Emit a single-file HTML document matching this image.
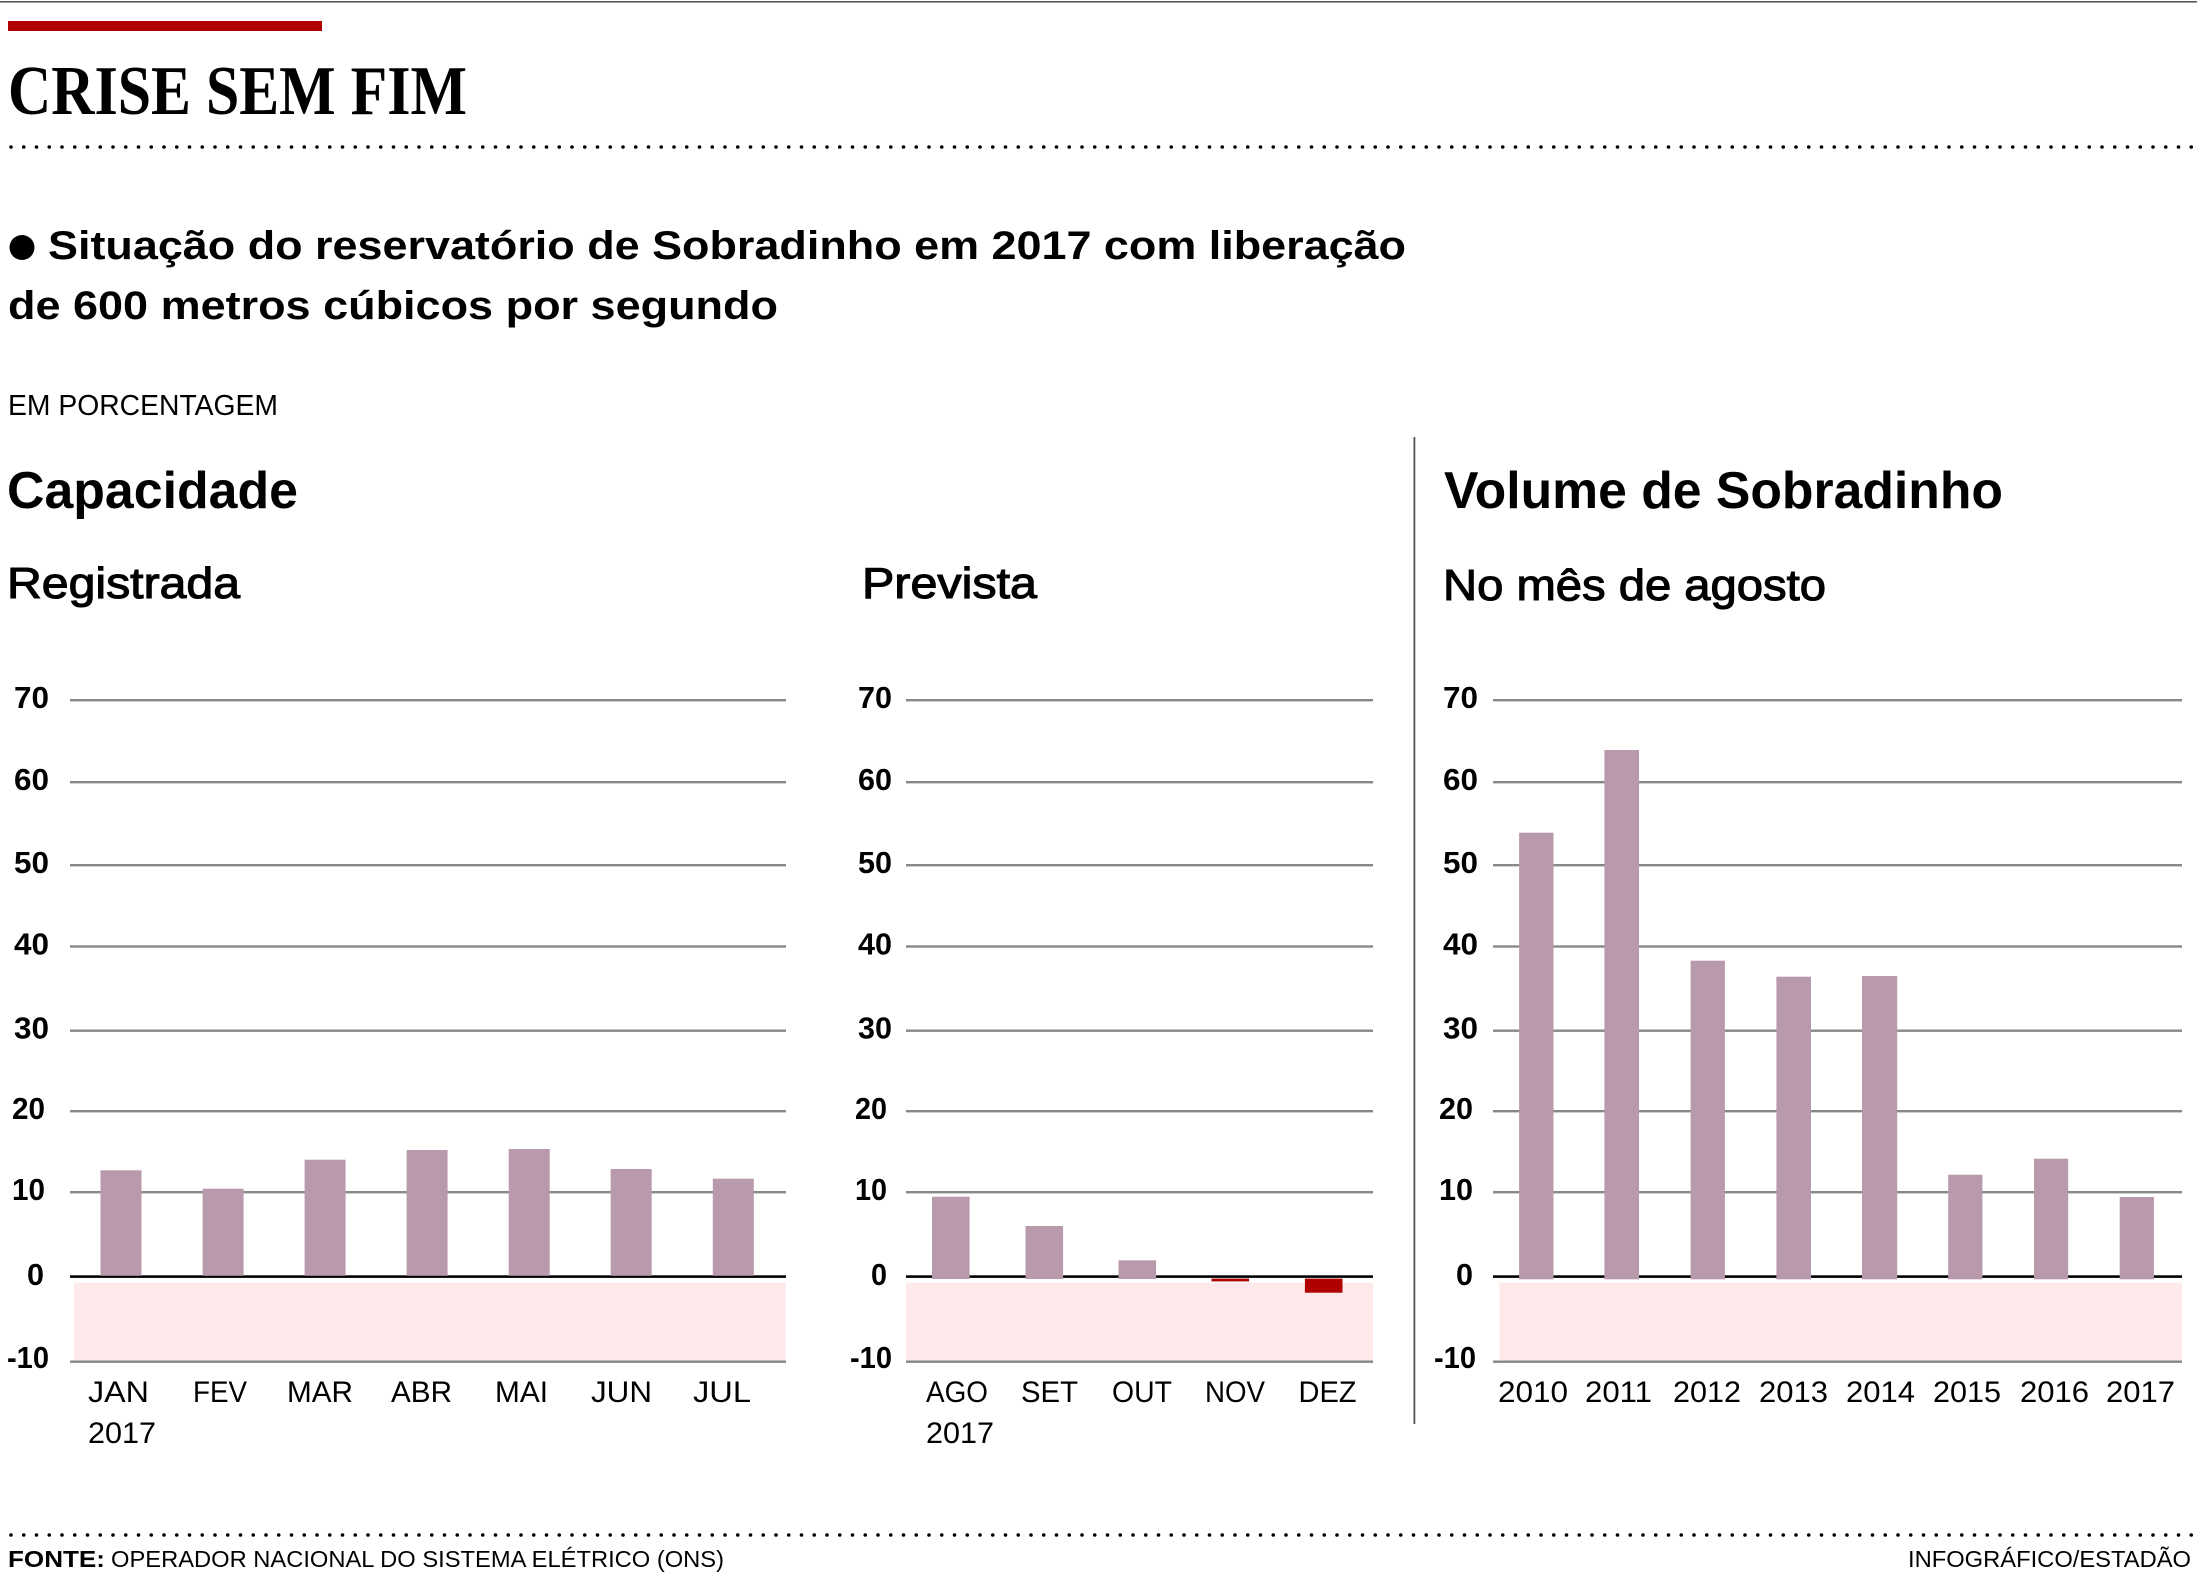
<!DOCTYPE html>
<html>
<head>
<meta charset="utf-8">
<style>
html,body{margin:0;padding:0;background:#fff;}
svg{display:block;}
text{font-family:"Liberation Sans",sans-serif;fill:#000;}
.serif{font-family:"Liberation Serif",serif;font-weight:bold;}
.b{font-weight:bold;}
.yl{font-weight:bold;font-size:31px;}
.xl{font-size:30px;}
</style>
</head>
<body>
<svg width="2197" height="1573" viewBox="0 0 2197 1573" xmlns="http://www.w3.org/2000/svg">
<rect x="0" y="0" width="2197" height="1573" fill="#fff"/>
<!-- top rule -->
<rect x="0" y="1" width="2197" height="1.6" fill="#555"/>
<!-- red bar -->
<rect x="8" y="21" width="314" height="10" fill="#b00000"/>
<!-- title -->
<text class="serif" x="8" y="114" font-size="70" textLength="459" lengthAdjust="spacingAndGlyphs">CRISE SEM FIM</text>
<!-- dotted line -->
<line x1="11" y1="147" x2="2193" y2="147" stroke="#000" stroke-width="3.6" stroke-linecap="round" stroke-dasharray="0 12.75"/>
<!-- subtitle -->
<circle cx="22" cy="247.5" r="12.5" fill="#000"/>
<text class="b" x="48" y="259" font-size="40" textLength="1358" lengthAdjust="spacingAndGlyphs">Situação do reservatório de Sobradinho em 2017 com liberação</text>
<text class="b" x="8" y="319" font-size="40" textLength="770" lengthAdjust="spacingAndGlyphs">de 600 metros cúbicos por segundo</text>
<text x="8" y="415" font-size="29" textLength="270" lengthAdjust="spacingAndGlyphs">EM PORCENTAGEM</text>

<!-- headings -->
<text class="b" x="7" y="508" font-size="52" textLength="291" lengthAdjust="spacingAndGlyphs">Capacidade</text>
<text x="7" y="598" font-size="44" stroke="#000" stroke-width="1.1" textLength="233" lengthAdjust="spacingAndGlyphs">Registrada</text>
<text x="862" y="598" font-size="44" stroke="#000" stroke-width="1.1" textLength="175" lengthAdjust="spacingAndGlyphs">Prevista</text>
<text class="b" x="1444" y="508" font-size="52" textLength="559" lengthAdjust="spacingAndGlyphs">Volume de Sobradinho</text>
<text x="1443" y="600" font-size="44" stroke="#000" stroke-width="1.1" textLength="383" lengthAdjust="spacingAndGlyphs">No mês de agosto</text>

<!-- separator -->
<rect x="1413.5" y="437" width="1.8" height="987" fill="#555"/>

<!-- pink negative regions -->
<rect x="74" y="1282.7" width="711.7" height="78" fill="#fde9ea"/>
<rect x="906" y="1282.7" width="467" height="78" fill="#fde9ea"/>
<rect x="1499.3" y="1282.7" width="682.7" height="78" fill="#fde9ea"/>

<!-- gridlines -->
<g fill="#888">
  <rect x="70" y="699" width="716" height="2.4"/>
  <rect x="70" y="781" width="716" height="2.4"/>
  <rect x="70" y="864" width="716" height="2.4"/>
  <rect x="70" y="945.3" width="716" height="2.4"/>
  <rect x="70" y="1029.5" width="716" height="2.4"/>
  <rect x="70" y="1110" width="716" height="2.4"/>
  <rect x="70" y="1191" width="716" height="2.4"/>
  <rect x="70" y="1360.5" width="716" height="2.4"/>

  <rect x="906" y="699" width="467" height="2.4"/>
  <rect x="906" y="781" width="467" height="2.4"/>
  <rect x="906" y="864" width="467" height="2.4"/>
  <rect x="906" y="945.3" width="467" height="2.4"/>
  <rect x="906" y="1029.5" width="467" height="2.4"/>
  <rect x="906" y="1110" width="467" height="2.4"/>
  <rect x="906" y="1191" width="467" height="2.4"/>
  <rect x="906" y="1360.5" width="467" height="2.4"/>

  <rect x="1493" y="699" width="689" height="2.4"/>
  <rect x="1493" y="781" width="689" height="2.4"/>
  <rect x="1493" y="864" width="689" height="2.4"/>
  <rect x="1493" y="945.3" width="689" height="2.4"/>
  <rect x="1493" y="1029.5" width="689" height="2.4"/>
  <rect x="1493" y="1110" width="689" height="2.4"/>
  <rect x="1493" y="1191" width="689" height="2.4"/>
  <rect x="1493" y="1360.5" width="689" height="2.4"/>
</g>

<!-- zero lines -->
<rect x="70" y="1275.3" width="716" height="2.6" fill="#000"/>
<rect x="906" y="1275.3" width="467" height="2.6" fill="#000"/>
<rect x="1493" y="1275.3" width="689" height="2.6" fill="#000"/>

<!-- chart 1 bars -->
<g fill="#b99aad">
  <rect x="100.5" y="1170.3" width="41" height="105.5"/>
  <rect x="202.6" y="1188.7" width="41" height="87.1"/>
  <rect x="304.6" y="1159.7" width="41" height="116.1"/>
  <rect x="406.6" y="1150" width="41" height="125.8"/>
  <rect x="508.7" y="1149" width="41" height="126.8"/>
  <rect x="610.7" y="1169" width="41" height="106.8"/>
  <rect x="712.8" y="1178.7" width="41" height="97.1"/>
</g>

<!-- chart 2 bars -->
<g fill="#b99aad">
  <rect x="932" y="1196.7" width="37.6" height="82.3"/>
  <rect x="1025.5" y="1226" width="37.6" height="53"/>
  <rect x="1118.5" y="1260.3" width="37.6" height="18.7"/>
</g>
<g fill="#b00000">
  <rect x="1211.5" y="1278.6" width="37.6" height="2.8"/>
  <rect x="1304.9" y="1278.6" width="37.6" height="14.1"/>
</g>

<!-- chart 3 bars -->
<g fill="#b99aad">
  <rect x="1519.1" y="832.7" width="34.4" height="446.6"/>
  <rect x="1604.4" y="750" width="34.6" height="529.3"/>
  <rect x="1690.6" y="960.7" width="34.3" height="318.6"/>
  <rect x="1776.4" y="976.7" width="34.6" height="302.6"/>
  <rect x="1862" y="976" width="35.2" height="303.3"/>
  <rect x="1948.2" y="1174.7" width="34.2" height="104.6"/>
  <rect x="2034" y="1158.7" width="34.2" height="120.6"/>
  <rect x="2119.7" y="1197" width="34.2" height="82.3"/>
</g>

<!-- y labels chart 1 -->
<g class="yl">
  <text x="14" y="708" textLength="35" lengthAdjust="spacingAndGlyphs">70</text>
  <text x="14" y="790" textLength="35" lengthAdjust="spacingAndGlyphs">60</text>
  <text x="14" y="873" textLength="35" lengthAdjust="spacingAndGlyphs">50</text>
  <text x="14" y="954.5" textLength="35" lengthAdjust="spacingAndGlyphs">40</text>
  <text x="14" y="1038.5" textLength="35" lengthAdjust="spacingAndGlyphs">30</text>
  <text x="12" y="1119" textLength="33" lengthAdjust="spacingAndGlyphs">20</text>
  <text x="12" y="1200" textLength="33" lengthAdjust="spacingAndGlyphs">10</text>
  <text x="27" y="1285" textLength="17" lengthAdjust="spacingAndGlyphs">0</text>
  <text x="7" y="1368" textLength="42" lengthAdjust="spacingAndGlyphs">-10</text>
</g>
<!-- y labels chart 2 -->
<g class="yl">
  <text x="858" y="708" textLength="34" lengthAdjust="spacingAndGlyphs">70</text>
  <text x="858" y="790" textLength="34" lengthAdjust="spacingAndGlyphs">60</text>
  <text x="858" y="873" textLength="34" lengthAdjust="spacingAndGlyphs">50</text>
  <text x="858" y="954.5" textLength="34" lengthAdjust="spacingAndGlyphs">40</text>
  <text x="858" y="1038.5" textLength="34" lengthAdjust="spacingAndGlyphs">30</text>
  <text x="855" y="1119" textLength="32" lengthAdjust="spacingAndGlyphs">20</text>
  <text x="855" y="1200" textLength="32" lengthAdjust="spacingAndGlyphs">10</text>
  <text x="871" y="1285" textLength="16" lengthAdjust="spacingAndGlyphs">0</text>
  <text x="850" y="1368" textLength="42" lengthAdjust="spacingAndGlyphs">-10</text>
</g>
<!-- y labels chart 3 -->
<g class="yl">
  <text x="1443" y="708" textLength="35" lengthAdjust="spacingAndGlyphs">70</text>
  <text x="1443" y="790" textLength="35" lengthAdjust="spacingAndGlyphs">60</text>
  <text x="1443" y="873" textLength="35" lengthAdjust="spacingAndGlyphs">50</text>
  <text x="1443" y="954.5" textLength="35" lengthAdjust="spacingAndGlyphs">40</text>
  <text x="1443" y="1038.5" textLength="35" lengthAdjust="spacingAndGlyphs">30</text>
  <text x="1439" y="1119" textLength="34" lengthAdjust="spacingAndGlyphs">20</text>
  <text x="1439" y="1200" textLength="34" lengthAdjust="spacingAndGlyphs">10</text>
  <text x="1456" y="1285" textLength="17" lengthAdjust="spacingAndGlyphs">0</text>
  <text x="1434" y="1368" textLength="42" lengthAdjust="spacingAndGlyphs">-10</text>
</g>

<!-- x labels chart 1 -->
<g class="xl">
  <text x="88" y="1402" textLength="61" lengthAdjust="spacingAndGlyphs">JAN</text>
  <text x="88" y="1443" textLength="68" lengthAdjust="spacingAndGlyphs">2017</text>
  <text x="193" y="1402" textLength="54" lengthAdjust="spacingAndGlyphs">FEV</text>
  <text x="287" y="1402" textLength="66" lengthAdjust="spacingAndGlyphs">MAR</text>
  <text x="391" y="1402" textLength="61" lengthAdjust="spacingAndGlyphs">ABR</text>
  <text x="495" y="1402" textLength="53" lengthAdjust="spacingAndGlyphs">MAI</text>
  <text x="591" y="1402" textLength="61" lengthAdjust="spacingAndGlyphs">JUN</text>
  <text x="693" y="1402" textLength="58" lengthAdjust="spacingAndGlyphs">JUL</text>
</g>
<!-- x labels chart 2 -->
<g class="xl">
  <text x="926" y="1402" textLength="62" lengthAdjust="spacingAndGlyphs">AGO</text>
  <text x="926" y="1443" textLength="68" lengthAdjust="spacingAndGlyphs">2017</text>
  <text x="1021" y="1402" textLength="57" lengthAdjust="spacingAndGlyphs">SET</text>
  <text x="1112" y="1402" textLength="60" lengthAdjust="spacingAndGlyphs">OUT</text>
  <text x="1205" y="1402" textLength="60" lengthAdjust="spacingAndGlyphs">NOV</text>
  <text x="1298.5" y="1402" textLength="58" lengthAdjust="spacingAndGlyphs">DEZ</text>
</g>
<!-- x labels chart 3 -->
<g class="xl">
  <text x="1498" y="1402" textLength="70" lengthAdjust="spacingAndGlyphs">2010</text>
  <text x="1585" y="1402" textLength="67" lengthAdjust="spacingAndGlyphs">2011</text>
  <text x="1673" y="1402" textLength="68" lengthAdjust="spacingAndGlyphs">2012</text>
  <text x="1759" y="1402" textLength="69" lengthAdjust="spacingAndGlyphs">2013</text>
  <text x="1846" y="1402" textLength="69" lengthAdjust="spacingAndGlyphs">2014</text>
  <text x="1933" y="1402" textLength="68" lengthAdjust="spacingAndGlyphs">2015</text>
  <text x="2020" y="1402" textLength="69" lengthAdjust="spacingAndGlyphs">2016</text>
  <text x="2106" y="1402" textLength="69" lengthAdjust="spacingAndGlyphs">2017</text>
</g>

<!-- footer -->
<line x1="11" y1="1535" x2="2193" y2="1535" stroke="#000" stroke-width="3.6" stroke-linecap="round" stroke-dasharray="0 12.75"/>
<text class="b" x="8" y="1567" font-size="23" textLength="97" lengthAdjust="spacingAndGlyphs">FONTE:</text>
<text x="111" y="1567" font-size="23" textLength="613" lengthAdjust="spacingAndGlyphs">OPERADOR NACIONAL DO SISTEMA ELÉTRICO (ONS)</text>
<text x="1908" y="1567" font-size="23" textLength="283" lengthAdjust="spacingAndGlyphs">INFOGRÁFICO/ESTADÃO</text>
</svg>
</body>
</html>
